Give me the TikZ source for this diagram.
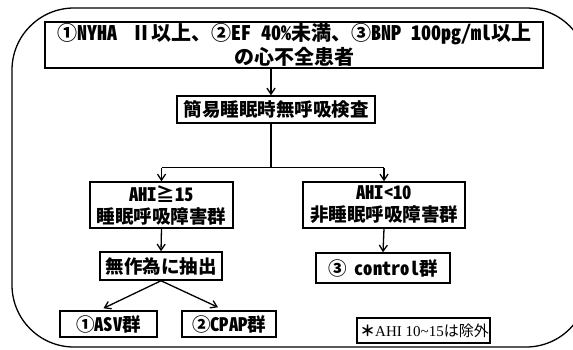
\documentclass[tikz,border=0pt]{standalone}
\usepackage{fontspec}
\usetikzlibrary{arrows.meta,calc}
\newfontfamily\jp{Noto Sans CJK JP}
\newfontfamily\jph{Noto Sans CJK JP}[CharacterWidth=Half]
\newfontfamily\serifl{Liberation Serif}
\newcommand{\hw}[1]{{\jph\bfseries #1}}
\begin{document}
\begin{tikzpicture}[x=1pt,y=-1pt,
  box/.style={draw,line width=1.5pt,inner sep=0pt,align=center,font=\jp\bfseries\fontsize{18.5}{22}\selectfont},
  conn/.style={line width=1.3pt},
  arr/.style={line width=1.3pt,-{Straight Barb[length=6pt,width=8pt,line width=1.3pt]}}]
\useasboundingbox (0,0) rectangle (573,349);
\clip (0,0) rectangle (573,349);
\draw[line width=1.3pt,rounded corners=62pt] (12,8) rectangle (588,347);

\node[box,minimum width=498pt,minimum height=46pt,font=\jp\bfseries\fontsize{20}{24}\selectfont] (b1) at (294,45)
  {①\hw{NYHA}\hspace{14pt}Ⅱ以上、②\hw{EF}\hspace{10pt}\hw{40\%}未満、③\hw{BNP}\hspace{10pt}\hw{100pg/ml}以上\\の心不全患者};
\node[box,minimum width=198pt,minimum height=27pt] (b2) at (276,109.5) {簡易睡眠時無呼吸検査};
\node[box,minimum width=143pt,minimum height=46pt] (l1) at (161.5,205) {\hw{AHI}≧\hw{15}\\睡眠呼吸障害群};
\node[box,minimum width=162pt,minimum height=46pt] (r1) at (384,205) {\hw{AHI<10}\\非睡眠呼吸障害群};
\node[box,minimum width=122pt,minimum height=28pt] (l2) at (161,266) {無作為に抽出};
\node[box,minimum width=134pt,minimum height=30pt] (r2) at (383,268) {③\hspace{8pt}\hw{control}群};
\node[box,minimum width=97pt,minimum height=26pt] (asv) at (108.5,324) {①\hw{ASV}群};
\node[box,minimum width=94pt,minimum height=26pt] (cpap) at (229,324) {②\hw{CPAP}群};
\node[draw,line width=1.5pt,inner sep=0pt,minimum width=133pt,minimum height=25pt,font=\fontsize{15}{17}\selectfont] (note) at (423.5,330.5)
  {\hspace{2pt}{\jp\bfseries ＊}{\serifl AHI 10\textasciitilde 15}{\jp は除外}};

\coordinate (split) at ($(b2.south)+(-5,44)$);
\draw[arr] ($(b1.south)+(-23,0)$) -- ($(b2.north)+(-5,0)$);
\draw[conn] ($(b2.south)+(-5,0)$) -- (split);
\draw[conn] (split -| l1.north) -- (split -| r1.north);
\draw[arr] (split -| l1.north) -- (l1.north);
\draw[arr] (split -| r1.north) -- (r1.north);
\draw[arr] (l1.south) -- (l2.north);
\draw[arr] (r1.south) -- (r2.north);
\draw[arr] (l2.south) -- ($(asv.north)+(-5,-2)$);
\draw[arr] (l2.south) -- ($(cpap.north)+(-11,-3)$);
\end{tikzpicture}
\end{document}
